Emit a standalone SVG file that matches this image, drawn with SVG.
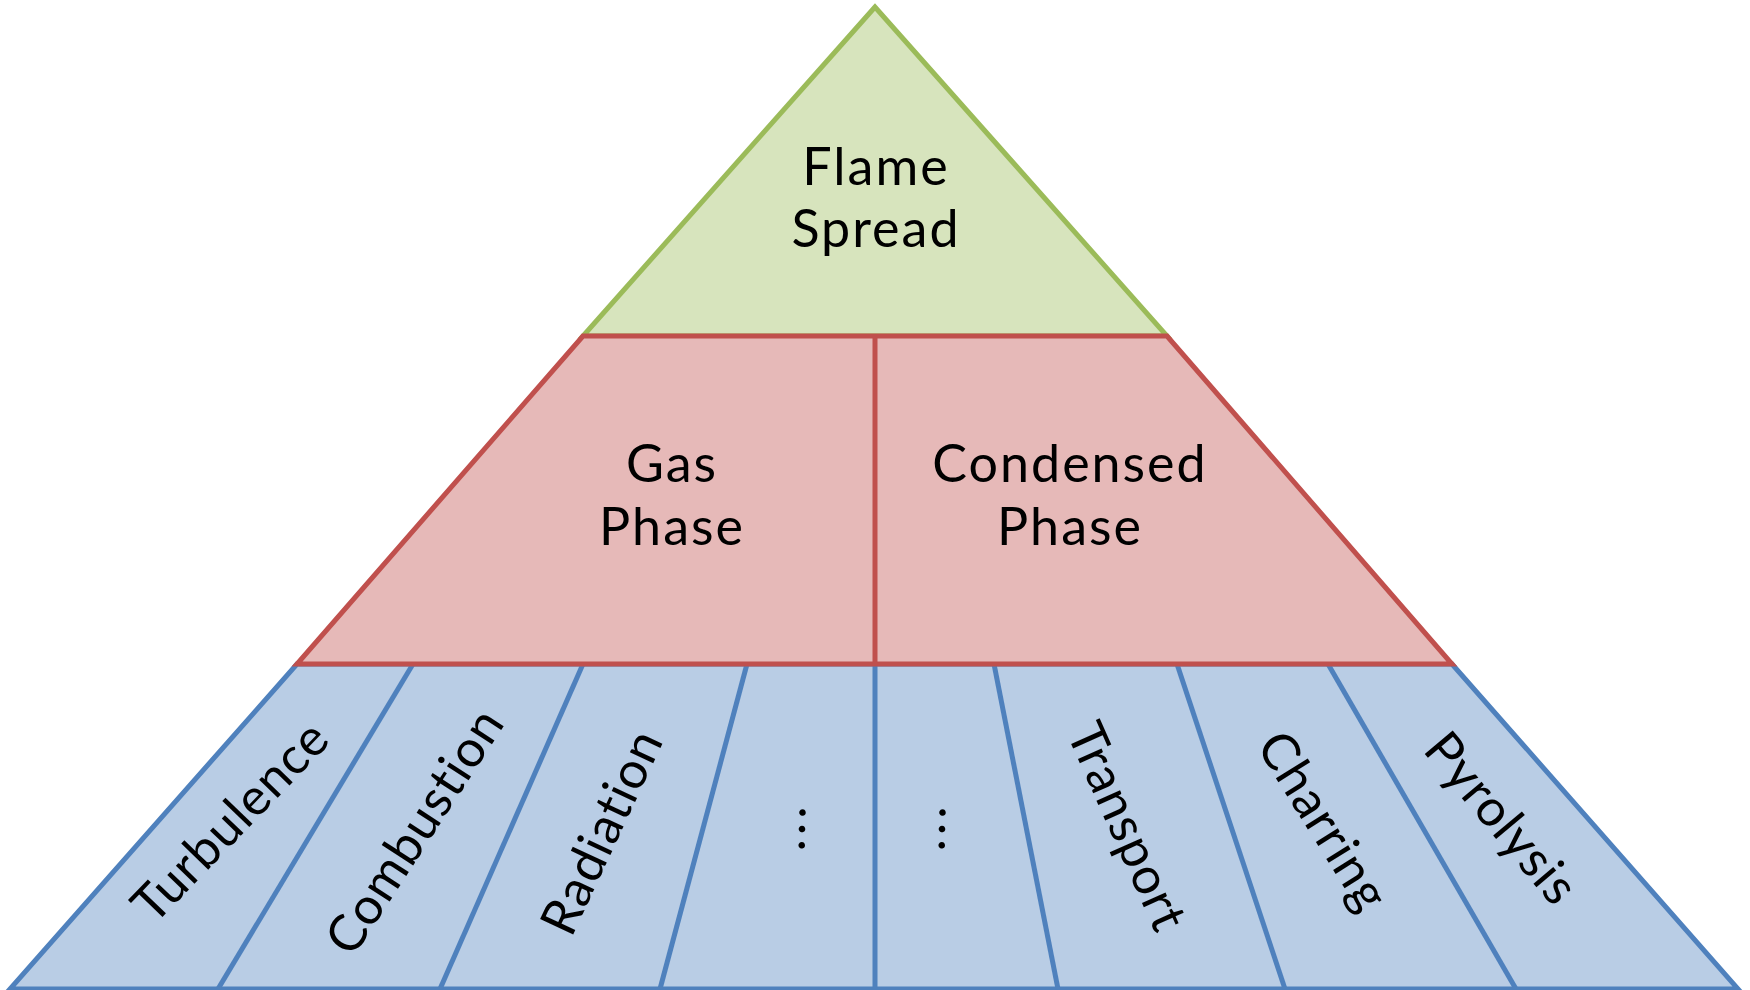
<svg xmlns="http://www.w3.org/2000/svg" width="1750" height="990" viewBox="0 0 1750 990">
<style>
  .txt { font-family: Lato, "Noto Sans", "Liberation Sans", sans-serif; fill: #000; }
  .big { font-size: 52px; text-anchor: middle; letter-spacing: 2px; }
  .lab { font-size: 51px; text-anchor: middle; dominant-baseline: central; letter-spacing: 1px; }
  .dots { font-size: 52px; text-anchor: middle; letter-spacing: 4px; }
  .blue { fill: #B9CDE5; stroke: #4F81BD; stroke-width: 5; stroke-linejoin: miter; }
  .red { fill: #E6B9B8; stroke: #C0504D; stroke-width: 5; }
  .green { fill: #D7E4BD; stroke: #9BBB59; stroke-width: 5; }
  .bline { stroke: #4F81BD; stroke-width: 5; fill: none; }
  .rline { stroke: #C0504D; stroke-width: 5; fill: none; }
</style>
<rect width="1750" height="990" fill="#fff"/>
<g id="bottom-band">
  <polygon class="blue" points="297,664 1452,664 1738,989 10,989"/>
</g>
<g id="connectors">
  <line class="bline" x1="413" y1="664" x2="218" y2="989"/>
  <line class="bline" x1="583" y1="664" x2="440" y2="989"/>
  <line class="bline" x1="747" y1="664" x2="660" y2="989"/>
  <line class="bline" x1="875" y1="664" x2="875" y2="989"/>
  <line class="bline" x1="994" y1="664" x2="1058" y2="989"/>
  <line class="bline" x1="1177" y1="664" x2="1285" y2="989"/>
  <line class="bline" x1="1328" y1="664" x2="1516" y2="989"/>
</g>
<g id="top">
  <polygon class="green" points="875,7 583,336 1167,336"/>
  <text class="txt big" x="876" y="185">Flame</text>
  <text class="txt big" x="876" y="247">Spread</text>
</g>
<g id="middle">
  <polygon class="red" points="583,336 1167,336 1452,664 297,664"/>
  <line class="rline" x1="875" y1="336" x2="875" y2="664"/>
</g>
<g id="gas-phase">
  <text class="txt big" x="672" y="482">Gas</text>
  <text class="txt big" x="672" y="545">Phase</text>
</g>
<g id="condensed-phase">
  <text class="txt big" x="1070" y="482">Condensed</text>
  <text class="txt big" x="1070" y="545">Phase</text>
</g>
<g id="turbulence"><text class="txt lab" transform="translate(229,820) rotate(-46)">Turbulence</text></g>
<g id="combustion"><text class="txt lab" transform="translate(413,830) rotate(-57)">Combustion</text></g>
<g id="radiation"><text class="txt lab" transform="translate(600,831) rotate(-65)">Radiation</text></g>
<g id="dots-left"><text class="txt dots" transform="translate(805,827) rotate(-89)">...</text></g>
<g id="dots-right"><text class="txt dots" transform="translate(945,827) rotate(-89)">...</text></g>
<g id="transport"><text class="txt lab" transform="translate(1129,826) rotate(66)">Transport</text></g>
<g id="charring"><text class="txt lab" transform="translate(1325,820) rotate(58)">Charring</text></g>
<g id="pyrolysis"><text class="txt lab" transform="translate(1503,817) rotate(50)">Pyrolysis</text></g>
</svg>
